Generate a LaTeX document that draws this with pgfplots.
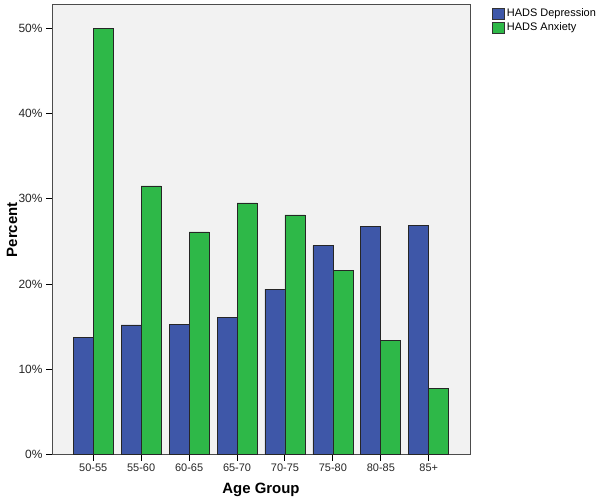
\documentclass[border=0pt]{standalone}
\usepackage{fontspec}
\setmainfont{Liberation Sans}
\usepackage{pgfplots}
\pgfplotsset{compat=1.18}
\definecolor{depblue}{RGB}{62,87,168}
\definecolor{anxgreen}{RGB}{46,184,72}
\definecolor{bggray}{RGB}{242,242,242}
\begin{document}
\begin{tikzpicture}
\path[use as bounding box] (0,0) rectangle (603bp,503bp);
\begin{axis}[
  at={(52bp,48.3bp)}, anchor=south west,
  scale only axis, width=418bp, height=449.7bp,
  xmin=-0.86, xmax=7.86, ymin=0, ymax=52.7,
  enlargelimits=false,
  ybar=0pt, bar width=20bp,
  xtick={0,...,7},
  xticklabels={50-55,55-60,60-65,65-70,70-75,75-80,80-85,85+},
  ytick={0,10,20,30,40,50},
  yticklabel={\pgfmathprintnumber{\tick}\%},
  /pgf/number format/assume math mode=true,
  tick align=outside, major tick length=6bp,
  xtick pos=left, ytick pos=left,
  tick style={black, line width=1bp},
  x tick label style={font=\fontsize{11}{13}\selectfont, text=black!85},
  y tick label style={font=\fontsize{12}{14}\selectfont, text=black!85},
  axis line style={black!70, line width=1bp},
  axis background/.style={fill=bggray},
  xlabel={\textbf{Age Group}},
  ylabel={\textbf{Percent}},
  xlabel style={font=\fontsize{15}{17}\selectfont, at={(axis description cs:0.5,-0.0785)}, anchor=center},
  ylabel style={font=\fontsize{15}{17}\selectfont, at={(axis description cs:-0.0957,0.5)}, anchor=center, rotate=0},
  legend style={at={(axis description cs:1.0526,0.996)}, anchor=north west, draw=none, fill=none, inner sep=0pt, font=\fontsize{11}{13}\selectfont, cells={anchor=west}, row sep=0.5bp},
  legend image code/.code={\draw[#1,draw=black!80,line width=0.8bp] (0bp,-5.5bp) rectangle (12bp,5.5bp);},
]
\addplot[fill=depblue, draw=black!85, line width=0.8bp] coordinates {
  (0,13.7) (1,15.2) (2,15.3) (3,16.1) (4,19.4) (5,24.5) (6,26.7) (7,26.9)};
\addplot[fill=anxgreen, draw=black!85, line width=0.8bp] coordinates {
  (0,50.0) (1,31.5) (2,26.1) (3,29.5) (4,28.1) (5,21.6) (6,13.4) (7,7.8)};
\legend{HADS Depression, HADS Anxiety}
\end{axis}
\end{tikzpicture}
\end{document}
